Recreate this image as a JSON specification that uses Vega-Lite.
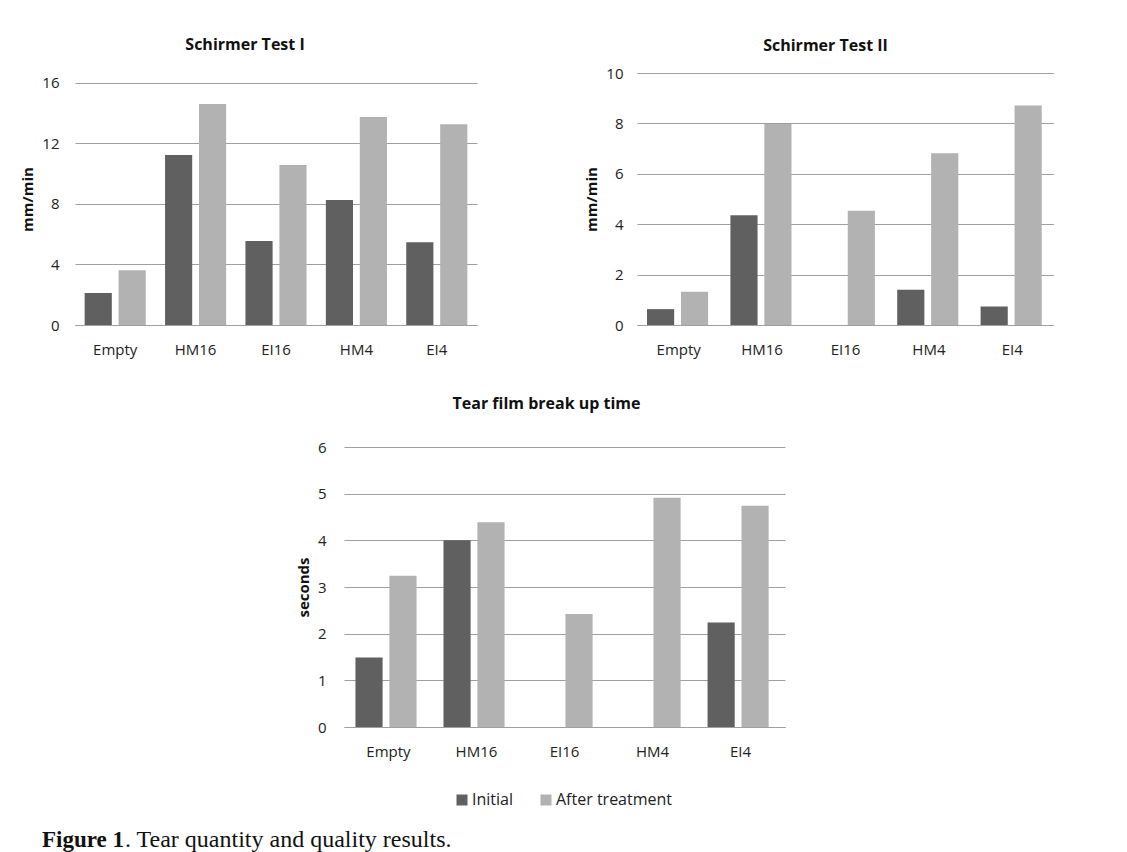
{
  "$schema": "https://vega.github.io/schema/vega-lite/v6.json",
  "background": "white",
  "padding": {"left": 20, "top": 37, "right": 0, "bottom": 0},
  "config": {
    "font": "Open Sans",
    "view": {"stroke": null},
    "title": {"fontSize": 16, "fontWeight": "bold", "color": "#111111", "anchor": "middle"},
    "axis": {"labelFont": "Open Sans", "titleFont": "Open Sans", "labelColor": "#222222", "titleColor": "#111111", "ticks": false},
    "axisY": {"domain": false, "grid": true, "gridColor": "#a0a0a0", "labelFontSize": 15, "labelPadding": 14, "titleFontSize": 15, "titleFontWeight": "bold", "titlePadding": 6},
    "axisX": {"domain": true, "domainColor": "#a0a0a0", "grid": false, "labelFontSize": 15, "labelPadding": 17, "labelAngle": 0, "title": null},
    "bar": {"stroke": null}
  },
  "datasets": {
    "results": [
      {"test": "I", "group": "Empty", "phase": "Initial", "value": 2.11},
      {"test": "I", "group": "Empty", "phase": "After treatment", "value": 3.61},
      {"test": "I", "group": "HM16", "phase": "Initial", "value": 11.22},
      {"test": "I", "group": "HM16", "phase": "After treatment", "value": 14.59},
      {"test": "I", "group": "EI16", "phase": "Initial", "value": 5.55},
      {"test": "I", "group": "EI16", "phase": "After treatment", "value": 10.56},
      {"test": "I", "group": "HM4", "phase": "Initial", "value": 8.25},
      {"test": "I", "group": "HM4", "phase": "After treatment", "value": 13.73},
      {"test": "I", "group": "EI4", "phase": "Initial", "value": 5.46},
      {"test": "I", "group": "EI4", "phase": "After treatment", "value": 13.25},
      {"test": "II", "group": "Empty", "phase": "Initial", "value": 0.63},
      {"test": "II", "group": "Empty", "phase": "After treatment", "value": 1.32},
      {"test": "II", "group": "HM16", "phase": "Initial", "value": 4.36},
      {"test": "II", "group": "HM16", "phase": "After treatment", "value": 7.98},
      {"test": "II", "group": "EI16", "phase": "Initial", "value": 0},
      {"test": "II", "group": "EI16", "phase": "After treatment", "value": 4.53},
      {"test": "II", "group": "HM4", "phase": "Initial", "value": 1.4},
      {"test": "II", "group": "HM4", "phase": "After treatment", "value": 6.82},
      {"test": "II", "group": "EI4", "phase": "Initial", "value": 0.73},
      {"test": "II", "group": "EI4", "phase": "After treatment", "value": 8.71},
      {"test": "TBUT", "group": "Empty", "phase": "Initial", "value": 1.49},
      {"test": "TBUT", "group": "Empty", "phase": "After treatment", "value": 3.24},
      {"test": "TBUT", "group": "HM16", "phase": "Initial", "value": 4.0},
      {"test": "TBUT", "group": "HM16", "phase": "After treatment", "value": 4.39},
      {"test": "TBUT", "group": "EI16", "phase": "Initial", "value": 0},
      {"test": "TBUT", "group": "EI16", "phase": "After treatment", "value": 2.42},
      {"test": "TBUT", "group": "HM4", "phase": "Initial", "value": 0},
      {"test": "TBUT", "group": "HM4", "phase": "After treatment", "value": 4.91},
      {"test": "TBUT", "group": "EI4", "phase": "Initial", "value": 2.24},
      {"test": "TBUT", "group": "EI4", "phase": "After treatment", "value": 4.74}
    ],
    "caption": [
      {"part": "Figure 1", "kind": "label"},
      {"part": ". Tear quantity and quality results.", "kind": "text"}
    ]
  },
  "resolve": {"scale": {"x": "independent", "y": "independent", "color": "independent"}, "legend": {"color": "independent"}},
  "spacing": 20,
  "vconcat": [
    {
      "center": true,
      "spacing": 39,
      "resolve": {"scale": {"x": "independent", "y": "independent", "color": "independent"}, "legend": {"color": "independent"}},
      "vconcat": [
        {
          "spacing": 107,
          "resolve": {"scale": {"x": "independent", "y": "independent", "color": "independent"}, "legend": {"color": "independent"}},
          "hconcat": [
            {
              "data": {"name": "results"},
              "width": 402,
              "height": 252,
              "title": {"text": "Schirmer Test I", "offset": 20, "dx": -31},
              "transform": [{"filter": "datum.test === 'I'"}],
              "mark": {"type": "bar"},
              "encoding": {
                "x": {"field": "group", "type": "nominal", "sort": ["Empty", "HM16", "EI16", "HM4", "EI4"], "scale": {"paddingInner": 0.24, "paddingOuter": 0.12}},
                "xOffset": {"field": "phase", "type": "nominal", "sort": ["Initial", "After treatment"], "scale": {"paddingInner": 0.2, "paddingOuter": 0}},
                "y": {"field": "value", "type": "quantitative", "scale": {"domain": [0, 16.64], "nice": false}, "axis": {"values": [0, 4, 8, 12, 16], "title": "mm/min", "labelPadding": 16}},
                "color": {"field": "phase", "type": "nominal", "scale": {"domain": ["Initial", "After treatment"], "range": ["#606060", "#b2b2b2"]}, "legend": null}
              }
            },
            {
              "data": {"name": "results"},
              "width": 417,
              "height": 252,
              "title": {"text": "Schirmer Test II", "offset": 12, "dx": -20},
              "transform": [{"filter": "datum.test === 'II'"}],
              "mark": {"type": "bar"},
              "encoding": {
                "x": {"field": "group", "type": "nominal", "sort": ["Empty", "HM16", "EI16", "HM4", "EI4"], "scale": {"paddingInner": 0.24, "paddingOuter": 0.12}},
                "xOffset": {"field": "phase", "type": "nominal", "sort": ["Initial", "After treatment"], "scale": {"paddingInner": 0.2, "paddingOuter": 0}},
                "y": {"field": "value", "type": "quantitative", "scale": {"domain": [0, 10], "nice": false}, "axis": {"values": [0, 2, 4, 6, 8, 10], "title": "mm/min"}},
                "color": {"field": "phase", "type": "nominal", "scale": {"domain": ["Initial", "After treatment"], "range": ["#606060", "#b2b2b2"]}, "legend": null}
              }
            }
          ]
        },
        {
          "data": {"name": "results"},
          "width": 441,
          "height": 280,
          "title": {"text": "Tear film break up time", "offset": 28, "dx": -18},
          "transform": [{"filter": "datum.test === 'TBUT'"}],
          "mark": {"type": "bar"},
          "encoding": {
            "x": {"field": "group", "type": "nominal", "sort": ["Empty", "HM16", "EI16", "HM4", "EI4"], "scale": {"paddingInner": 0.25, "paddingOuter": 0.13}},
            "xOffset": {"field": "phase", "type": "nominal", "sort": ["Initial", "After treatment"], "scale": {"paddingInner": 0.2, "paddingOuter": 0}},
            "y": {"field": "value", "type": "quantitative", "scale": {"domain": [0, 6], "nice": false}, "axis": {"values": [0, 1, 2, 3, 4, 5, 6], "title": "seconds", "labelPadding": 18}},
            "color": {"field": "phase", "type": "nominal", "scale": {"domain": ["Initial", "After treatment"], "range": ["#606060", "#b2b2b2"]},
              "legend": {"title": null, "orient": "none", "direction": "horizontal", "legendX": 110, "legendY": 345, "symbolType": "square", "symbolSize": 121, "symbolStrokeWidth": 0, "labelFontSize": 16, "labelFont": "Open Sans", "labelColor": "#222222", "labelOffset": 2, "columnPadding": 25}}
          }
        }
      ]
    },
    {
      "data": {"name": "caption"},
      "width": 600,
      "height": 20,
      "layer": [
        {
          "transform": [{"filter": "datum.kind === 'label'"}],
          "mark": {"type": "text", "align": "left", "baseline": "middle", "font": "Liberation Serif", "fontSize": 23, "fontWeight": "bold", "color": "#111111", "dx": -33},
          "encoding": {"x": {"datum": 0, "type": "quantitative", "scale": {"domain": [0, 1]}, "axis": null}, "text": {"field": "part"}}
        },
        {
          "transform": [{"filter": "datum.kind === 'text'"}],
          "mark": {"type": "text", "align": "left", "baseline": "middle", "font": "Liberation Serif", "fontSize": 24, "color": "#111111", "dx": 50},
          "encoding": {"x": {"datum": 0, "type": "quantitative", "scale": {"domain": [0, 1]}, "axis": null}, "text": {"field": "part"}}
        }
      ]
    }
  ]
}
